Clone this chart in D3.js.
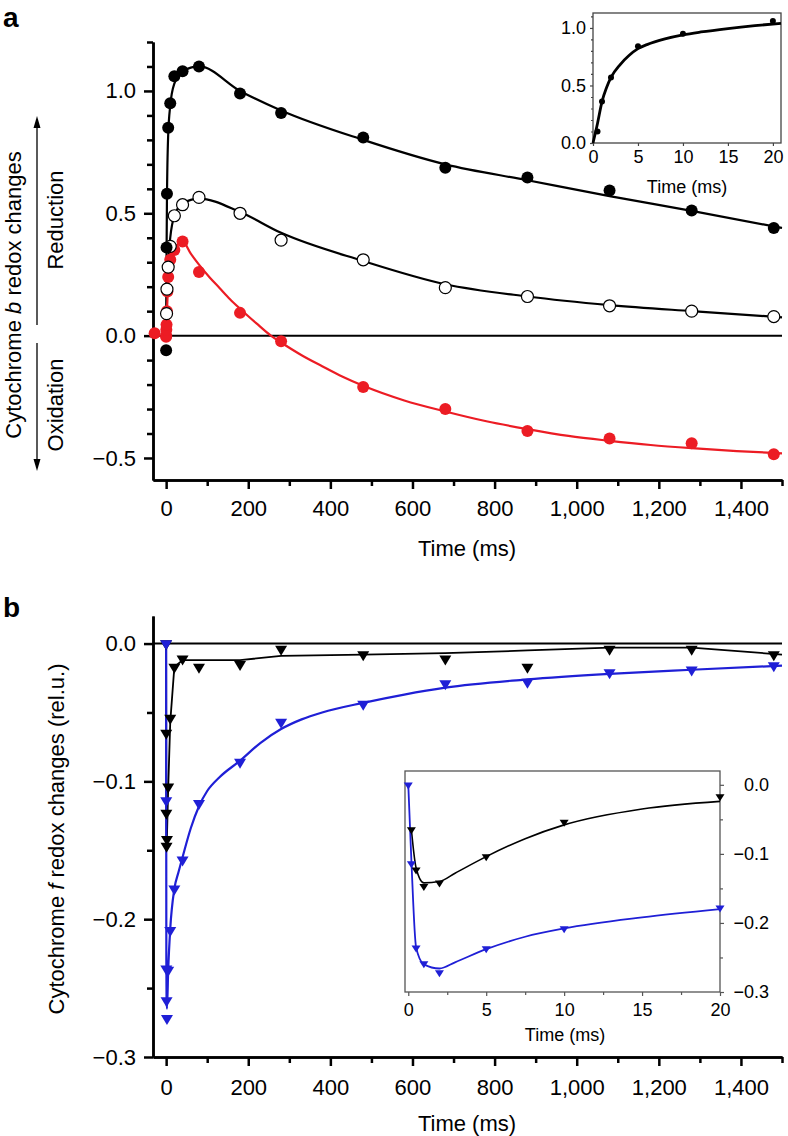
<!DOCTYPE html>
<html><head><meta charset="utf-8">
<script src="https://cdn.jsdelivr.net/npm/d3@7"></script>
<style>body{margin:0;background:#fff} svg{display:block;font-family:"Liberation Sans",Arial,Helvetica,sans-serif}</style>
</head><body><svg id="c" width="788" height="1136"></svg>
<script>
// ---------------- DATA ----------------
const xMajor = [0,200,400,600,800,1000,1200,1400];
const xMinor = [100,300,500,700,900,1100,1300,1500];
const aYMajor = [-0.5,0,0.5,1.0];
const aYMinor = [-0.4,-0.3,-0.2,-0.1,0.1,0.2,0.3,0.4,0.6,0.7,0.8,0.9,1.1,1.2];
const bYMajor = [0,-0.1,-0.2,-0.3];
const bYMinor = [-0.05,-0.15,-0.25];
const insXMajor = [0,5,10,15,20];
const insAYMajor = [0,0.5,1.0];
const insAYMinor = [0.1,0.2,0.3,0.4,0.6,0.7,0.8,0.9,1.1];
const insBYMajor = [0,-0.1,-0.2,-0.3];
const insBYMinor = [-0.05,-0.15,-0.25];
const insBXMinor = [2.5,7.5,12.5,17.5];

// panel a: [time ms, value]
const aBlack = [[0,-0.06],[1,0.36],[2,0.58],[5,0.85],[10,0.95],[20,1.06],[40,1.08],[80,1.10],[180,0.99],[280,0.91],[480,0.81],[680,0.686],[880,0.646],[1080,0.593],[1280,0.511],[1480,0.44]];
const aBlackFit = [[0,0],[0.5,0.12],[1,0.33],[2,0.56],[5,0.82],[10,0.94],[20,1.03],[40,1.08],[80,1.10],[180,1.0],[280,0.92],[480,0.80],[680,0.70],[880,0.635],[1080,0.57],[1280,0.51],[1500,0.44]];
const aOpen = [[1,0.09],[2,0.19],[5,0.28],[10,0.365],[20,0.49],[40,0.535],[80,0.565],[180,0.50],[280,0.39],[480,0.31],[680,0.196],[880,0.16],[1080,0.122],[1280,0.10],[1480,0.078]];
const aOpenFit = [[0,0],[2,0.2],[5,0.3],[10,0.4],[20,0.49],[40,0.54],[80,0.56],[180,0.505],[280,0.42],[480,0.305],[680,0.21],[880,0.16],[1080,0.125],[1280,0.1],[1500,0.075]];
const aRed = [[-28,0.01],[0,-0.005],[0.2,0.0],[0.5,0.024],[1,0.045],[2,0.1],[3,0.18],[5,0.24],[10,0.31],[20,0.35],[40,0.385],[80,0.26],[180,0.093],[280,-0.023],[480,-0.21],[680,-0.30],[880,-0.39],[1080,-0.42],[1280,-0.44],[1480,-0.485]];
const aRedFit = [[0,0],[2,0.1],[5,0.22],[10,0.3],[20,0.35],[40,0.385],[60,0.335],[80,0.29],[105,0.24],[130,0.195],[155,0.15],[180,0.11],[220,0.05],[255,0],[280,-0.028],[330,-0.08],[380,-0.125],[430,-0.168],[480,-0.205],[580,-0.265],[680,-0.31],[780,-0.35],[880,-0.382],[980,-0.41],[1080,-0.43],[1180,-0.447],[1280,-0.46],[1390,-0.472],[1500,-0.481]];
// inset a
const insAPts = [[0.5,0.1],[1,0.36],[2,0.57],[5,0.84],[10,0.95],[20,1.06]];
const insAFit = [[0,0],[0.5,0.17],[1,0.36],[1.5,0.48],[2,0.57],[3,0.68],[4,0.76],[5,0.82],[6,0.855],[8,0.905],[10,0.94],[12,0.965],[15,0.995],[18,1.02],[20.9,1.04]];

// panel b
const bBlack = [[0,0],[0.2,-0.065],[0.5,-0.123],[1,-0.147],[2,-0.142],[5,-0.104],[10,-0.054],[20,-0.017],[40,-0.011],[80,-0.017],[180,-0.015],[280,-0.004],[480,-0.008],[680,-0.011],[880,-0.017],[1080,-0.004],[1280,-0.004],[1480,-0.008]];
const bBlackFit = [[0,0],[0.2,-0.06],[0.5,-0.12],[1,-0.142],[2,-0.14],[5,-0.105],[10,-0.057],[20,-0.017],[40,-0.012],[180,-0.012],[280,-0.009],[480,-0.008],[680,-0.007],[880,-0.005],[1080,-0.003],[1280,-0.003],[1500,-0.008]];
const bBlue = [[0,0],[0.2,-0.114],[0.5,-0.236],[1,-0.259],[2,-0.272],[5,-0.237],[10,-0.208],[20,-0.178],[40,-0.157],[80,-0.116],[180,-0.086],[280,-0.057],[480,-0.044],[680,-0.029],[880,-0.028],[1080,-0.021],[1280,-0.019],[1480,-0.016]];
const bBlueFit = [[0,0],[0.2,-0.11],[0.5,-0.23],[1,-0.258],[2,-0.265],[5,-0.237],[10,-0.207],[20,-0.178],[30,-0.166],[40,-0.155],[60,-0.134],[80,-0.118],[100,-0.107],[130,-0.097],[180,-0.085],[230,-0.072],[280,-0.062],[330,-0.055],[380,-0.05],[480,-0.043],[580,-0.037],[680,-0.032],[880,-0.026],[1080,-0.022],[1280,-0.019],[1500,-0.016]];
// inset b
const insBBlackFit = [[0.2,-0.065],[0.5,-0.12],[1,-0.142],[2,-0.14],[3,-0.128],[5,-0.104],[7.5,-0.078],[10,-0.058],[15,-0.035],[20,-0.024]];
const insBBlueFit = [[0,0],[0.2,-0.11],[0.5,-0.235],[1,-0.26],[2,-0.266],[3,-0.257],[5,-0.238],[7.5,-0.22],[10,-0.208],[15,-0.192],[20,-0.18]];

// ---------------- DRAW ----------------
const svg = d3.select("#c");
const RED = "#ec1c24", BLUE = "#1f1fd6";
const fmt1 = d3.format(".1f"), fmtC = d3.format(",");

function styleAxis(g, fs, sw, col){
  g.attr("font-size", fs).attr("font-family", null);
  g.selectAll("path.domain").attr("stroke", col||"#000").attr("stroke-width", sw);
  g.selectAll(".tick line").attr("stroke", col||"#000").attr("stroke-width", sw);
  g.selectAll(".tick text").attr("fill", "#000");
}
function tri(sel, x, y, data, w, h, col){
  sel.selectAll(null).data(data).enter().append("path")
    .attr("d", `M${-w},${-h/3}L${w},${-h/3}L0,${2*h/3}Z`)
    .attr("transform", d => `translate(${x(d[0])},${y(d[1])})`)
    .attr("fill", col);
}

// ===== Panel a =====
const xa = d3.scaleLinear().domain([-32,1500]).range([153,782]);
const ya = d3.scaleLinear().domain([-0.59,1.2]).range([480,42]);
const ga = svg.append("g");

ga.append("g").attr("transform","translate(0,480)")
  .call(d3.axisBottom(xa).tickValues(xMinor).tickFormat("").tickSize(6).tickSizeOuter(0))
  .call(g=>styleAxis(g,22,2.5));
ga.append("g").attr("transform","translate(0,480)")
  .call(d3.axisBottom(xa).tickValues(xMajor).tickFormat(fmtC).tickSize(9).tickPadding(11).tickSizeOuter(0))
  .call(g=>styleAxis(g,22,2.5));
ga.append("g").attr("transform","translate(153,0)")
  .call(d3.axisLeft(ya).tickValues(aYMinor).tickFormat("").tickSize(6).tickSizeOuter(0))
  .call(g=>styleAxis(g,22,2.5));
ga.append("g").attr("transform","translate(153,0)")
  .call(d3.axisLeft(ya).tickValues(aYMajor).tickFormat(fmt1).tickSize(9).tickPadding(8).tickSizeOuter(0))
  .call(g=>styleAxis(g,22,2.5));
ga.append("line").attr("x1",153).attr("x2",782).attr("y1",ya(0)).attr("y2",ya(0)).attr("stroke","#000").attr("stroke-width",2);

const lineA = d3.line().x(d=>xa(d[0])).y(d=>ya(d[1])).curve(d3.curveMonotoneX);
ga.append("path").attr("d",lineA(aBlackFit)).attr("fill","none").attr("stroke","#000").attr("stroke-width",2.2);
ga.append("path").attr("d",lineA(aOpenFit)).attr("fill","none").attr("stroke","#000").attr("stroke-width",2.2);
ga.append("path").attr("d",lineA(aRedFit)).attr("fill","none").attr("stroke",RED).attr("stroke-width",2.2);

ga.selectAll(null).data(aRed).enter().append("circle").attr("cx",d=>xa(d[0])).attr("cy",d=>ya(d[1])).attr("r",6).attr("fill",RED);
ga.selectAll(null).data(aOpen).enter().append("circle").attr("cx",d=>xa(d[0])).attr("cy",d=>ya(d[1])).attr("r",6).attr("fill","#fff").attr("stroke","#000").attr("stroke-width",1.2);
ga.selectAll(null).data(aBlack).enter().append("circle").attr("cx",d=>xa(d[0])).attr("cy",d=>ya(d[1])).attr("r",6).attr("fill","#000");

ga.append("text").attr("x",467).attr("y",556).attr("text-anchor","middle").attr("font-size",22).text("Time (ms)");
const yt = ga.append("text").attr("transform","translate(21,295) rotate(-90)").attr("text-anchor","middle").attr("font-size",22);
yt.append("tspan").text("Cytochrome ");
yt.append("tspan").attr("font-style","italic").text("b");
yt.append("tspan").text(" redox changes");
ga.append("text").attr("transform","translate(63,220) rotate(-90)").attr("text-anchor","middle").attr("font-size",22).text("Reduction");
ga.append("text").attr("transform","translate(63,405) rotate(-90)").attr("text-anchor","middle").attr("font-size",22).text("Oxidation");
ga.append("line").attr("x1",37).attr("x2",37).attr("y1",325).attr("y2",126).attr("stroke","#000").attr("stroke-width",1.3);
ga.append("path").attr("d","M37,116L33.5,128L40.5,128Z").attr("fill","#000");
ga.append("line").attr("x1",37).attr("x2",37).attr("y1",343).attr("y2",461).attr("stroke","#000").attr("stroke-width",1.3);
ga.append("path").attr("d","M37,471L33.5,459L40.5,459Z").attr("fill","#000");
svg.append("text").attr("x",3).attr("y",27).attr("font-size",28).attr("font-weight","bold").text("a");

// inset a
const xia = d3.scaleLinear().domain([0,20.9]).range([593,781]);
const yia = d3.scaleLinear().domain([0,1.13]).range([143,13]);
const gia = svg.append("g");
gia.append("rect").attr("x",593).attr("y",13).attr("width",188).attr("height",130).attr("fill","#fff").attr("stroke","#444").attr("stroke-width",1.3);
gia.append("g").attr("transform","translate(593,0)")
  .call(d3.axisLeft(yia).tickValues(insAYMinor).tickFormat("").tickSize(2).tickSizeOuter(0))
  .call(g=>{styleAxis(g,18,1.2,"#444"); g.select("path.domain").remove();});
gia.append("g").attr("transform","translate(593,0)")
  .call(d3.axisLeft(yia).tickValues(insAYMajor).tickFormat(fmt1).tickSize(3).tickPadding(4).tickSizeOuter(0))
  .call(g=>{styleAxis(g,18,1.2,"#444"); g.select("path.domain").remove();});
gia.append("g").attr("transform","translate(0,143)")
  .call(d3.axisBottom(xia).tickValues(insXMajor).tickFormat(d3.format("d")).tickSize(3).tickPadding(4).tickSizeOuter(0))
  .call(g=>{styleAxis(g,18,1.2,"#444"); g.select("path.domain").remove();});
gia.append("path").attr("d",d3.line().x(d=>xia(d[0])).y(d=>yia(d[1])).curve(d3.curveMonotoneX)(insAFit))
  .attr("fill","none").attr("stroke","#000").attr("stroke-width",2.8);
gia.selectAll(null).data(insAPts).enter().append("circle").attr("cx",d=>xia(d[0])).attr("cy",d=>yia(d[1])).attr("r",3).attr("fill","#000");
gia.append("text").attr("x",687).attr("y",193).attr("text-anchor","middle").attr("font-size",18).text("Time (ms)");

// ===== Panel b =====
const xb = d3.scaleLinear().domain([-32,1500]).range([153,782]);
const yb = d3.scaleLinear().domain([-0.3,0.02]).range([1057,616]);
const gb = svg.append("g");
gb.append("g").attr("transform","translate(0,1057)")
  .call(d3.axisBottom(xb).tickValues(xMinor).tickFormat("").tickSize(6).tickSizeOuter(0))
  .call(g=>styleAxis(g,22,2.5));
gb.append("g").attr("transform","translate(0,1057)")
  .call(d3.axisBottom(xb).tickValues(xMajor).tickFormat(fmtC).tickSize(9).tickPadding(13).tickSizeOuter(0))
  .call(g=>styleAxis(g,22,2.5));
gb.append("g").attr("transform","translate(153,0)")
  .call(d3.axisLeft(yb).tickValues(bYMinor).tickFormat("").tickSize(6).tickSizeOuter(0))
  .call(g=>styleAxis(g,22,2.5));
gb.append("g").attr("transform","translate(153,0)")
  .call(d3.axisLeft(yb).tickValues(bYMajor).tickFormat(fmt1).tickSize(9).tickPadding(8).tickSizeOuter(0))
  .call(g=>styleAxis(g,22,2.5));
gb.append("line").attr("x1",153).attr("x2",782).attr("y1",yb(0)).attr("y2",yb(0)).attr("stroke","#000").attr("stroke-width",2);

gb.append("path").attr("d",d3.line().x(d=>xb(d[0])).y(d=>yb(d[1]))(bBlackFit)).attr("fill","none").attr("stroke","#000").attr("stroke-width",1.8);
gb.append("path").attr("d",d3.line().x(d=>xb(d[0])).y(d=>yb(d[1])).curve(d3.curveMonotoneX)(bBlueFit)).attr("fill","none").attr("stroke",BLUE).attr("stroke-width",2.2);
tri(gb, xb, yb, bBlack, 6, 10, "#000");
tri(gb, xb, yb, bBlue, 6, 10, BLUE);

gb.append("text").attr("x",467).attr("y",1131).attr("text-anchor","middle").attr("font-size",22).text("Time (ms)");
const ytb = gb.append("text").attr("transform","translate(64,839) rotate(-90)").attr("text-anchor","middle").attr("font-size",22);
ytb.append("tspan").text("Cytochrome ");
ytb.append("tspan").attr("font-style","italic").text("f");
ytb.append("tspan").text(" redox changes (rel.u.)");
svg.append("text").attr("x",3).attr("y",617).attr("font-size",28).attr("font-weight","bold").text("b");

// inset b
const xib = d3.scaleLinear().domain([-0.21,20]).range([405,720]);
const yib = d3.scaleLinear().domain([-0.3,0.02]).range([992,771]);
const gib = svg.append("g");
gib.append("rect").attr("x",405).attr("y",771).attr("width",315).attr("height",221).attr("fill","#fff").attr("stroke","#555").attr("stroke-width",1.3);
gib.append("g").attr("transform","translate(720,0)")
  .call(d3.axisRight(yib).tickValues(insBYMinor).tickFormat("").tickSize(3).tickSizeOuter(0))
  .call(g=>{styleAxis(g,18,1.2,"#555"); g.select("path.domain").remove();});
gib.append("g").attr("transform","translate(720,0)")
  .call(d3.axisRight(yib).tickValues(insBYMajor).tickFormat(fmt1).tickSize(4).tickSizeOuter(0))
  .call(g=>{styleAxis(g,18,1.2,"#555"); g.select("path.domain").remove();
            g.selectAll(".tick text").attr("text-anchor","end").attr("x",49);});
gib.append("g").attr("transform","translate(0,992)")
  .call(d3.axisBottom(xib).tickValues(insBXMinor).tickFormat("").tickSize(3).tickSizeOuter(0))
  .call(g=>{styleAxis(g,18,1.2,"#555"); g.select("path.domain").remove();});
gib.append("g").attr("transform","translate(0,992)")
  .call(d3.axisBottom(xib).tickValues(insXMajor).tickFormat(d3.format("d")).tickSize(4).tickPadding(7).tickSizeOuter(0))
  .call(g=>{styleAxis(g,18,1.2,"#555"); g.select("path.domain").remove();});
const lineIB = d3.line().x(d=>xib(d[0])).y(d=>yib(d[1])).curve(d3.curveMonotoneX);
gib.append("path").attr("d",lineIB(insBBlackFit)).attr("fill","none").attr("stroke","#000").attr("stroke-width",1.6);
gib.append("path").attr("d",lineIB(insBBlueFit)).attr("fill","none").attr("stroke",BLUE).attr("stroke-width",1.8);
tri(gib, xib, yib, bBlack.filter(d=>d[0]>0 && d[0]<=20), 4.5, 7, "#000");
tri(gib, xib, yib, bBlue.filter(d=>d[0]<=20), 4.5, 7, BLUE);
gib.append("text").attr("x",565).attr("y",1041).attr("text-anchor","middle").attr("font-size",18).text("Time (ms)");
</script></body></html>
